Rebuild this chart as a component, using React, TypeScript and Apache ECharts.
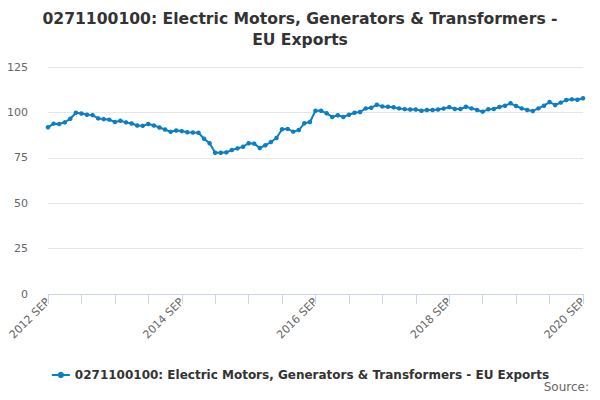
import React, { useRef, useEffect } from 'react'
import * as echarts from 'echarts'

const seriesName = '0271100100: Electric Motors, Generators & Transformers - EU Exports'
const titleText = '0271100100: Electric Motors, Generators & Transformers -\nEU Exports'

const monthNames = ['JAN', 'FEB', 'MAR', 'APR', 'MAY', 'JUN', 'JUL', 'AUG', 'SEP', 'OCT', 'NOV', 'DEC']

// 2012 SEP .. 2020 SEP, monthly
const categories: string[] = []
for (let k = 0; k < 97; k++) {
  const m = 8 + k
  categories.push(`${2012 + Math.floor(m / 12)} ${monthNames[m % 12]}`)
}

const values = [
  91.8, 93.8, 93.6, 94.5, 96.5, 99.8, 99.4, 98.7, 98.5, 96.7, 96.3, 96.0,
  94.7, 95.4, 94.5, 93.9, 92.8, 92.6, 93.6, 92.8, 91.7, 90.6, 89.3, 90.0,
  89.7, 89.1, 88.9, 88.8, 85.5, 83.0, 77.8, 77.8, 78.0, 79.3, 80.2, 81.1,
  83.0, 82.8, 80.4, 81.9, 83.7, 85.9, 90.7, 90.9, 89.4, 90.3, 94.0, 94.7,
  100.9, 100.9, 99.5, 97.5, 98.4, 97.5, 98.7, 99.8, 100.2, 102.2, 102.6, 104.2,
  103.3, 103.1, 102.8, 102.2, 101.8, 101.6, 101.6, 100.9, 101.3, 101.3, 101.6, 102.1,
  102.9, 101.9, 101.9, 103.1, 102.2, 101.3, 100.4, 101.7, 101.9, 103.0, 103.7, 105.0,
  103.5, 102.2, 101.3, 100.8, 102.2, 103.7, 105.7, 104.1, 105.4, 106.8, 107.2, 107.0,
  107.8
]

const yMin = 0
const yMax = 125
const yStep = 25

const fontFamily = '"DejaVu Sans", sans-serif'

const App: React.FC = () => {
  const chartRef = useRef<HTMLDivElement>(null)

  useEffect(() => {
    if (!chartRef.current) return
    const chart = echarts.init(chartRef.current, null, { renderer: 'svg' })

    chart.setOption({
      animation: false,
      textStyle: { fontFamily },
      title: {
        text: titleText,
        left: 'center',
        top: 3,
        textStyle: {
          color: '#333333',
          fontSize: 15.6,
          fontWeight: 'bold',
          lineHeight: 21,
          fontFamily
        }
      },
      legend: {
        data: [seriesName],
        left: 'center',
        top: 364,
        itemWidth: 18,
        itemHeight: 8,
        itemGap: 6,
        textStyle: {
          color: '#333333',
          fontSize: 12,
          fontWeight: 'bold',
          fontFamily
        }
      },
      grid: {
        left: 48,
        right: 17,
        top: 67,
        bottom: 106,
        containLabel: false
      },
      xAxis: {
        type: 'category',
        data: categories,
        boundaryGap: false,
        axisLine: { lineStyle: { color: '#ccd6eb', width: 1 } },
        axisTick: {
          show: true,
          interval: 5,
          length: 10,
          lineStyle: { color: '#ccd6eb' }
        },
        axisLabel: {
          interval: 23,
          rotate: 45,
          color: '#666666',
          fontSize: 11,
          margin: 6,
          fontFamily
        },
        splitLine: { show: false }
      },
      yAxis: {
        type: 'value',
        min: yMin,
        max: yMax,
        interval: yStep,
        axisLine: { show: false },
        axisTick: { show: false },
        axisLabel: {
          color: '#666666',
          fontSize: 11,
          margin: 20,
          fontFamily
        },
        splitLine: { lineStyle: { color: '#e6e6e6', width: 1 } }
      },
      series: [
        {
          name: seriesName,
          type: 'line',
          data: values,
          color: '#0b7fc3',
          symbol: 'circle',
          symbolSize: 4.5,
          showAllSymbol: true,
          lineStyle: { width: 2, color: '#0b7fc3' },
          itemStyle: { color: '#0b7fc3' }
        }
      ],
      graphic: [
        {
          type: 'text',
          right: 11,
          top: 381,
          style: {
            text: 'Source:',
            fill: '#666666',
            fontSize: 12,
            fontFamily
          }
        }
      ]
    })

    return () => {
      chart.dispose()
    }
  }, [])

  return <div ref={chartRef} style={{ width: 600, height: 400, margin: -8 }} />
}

export default App
